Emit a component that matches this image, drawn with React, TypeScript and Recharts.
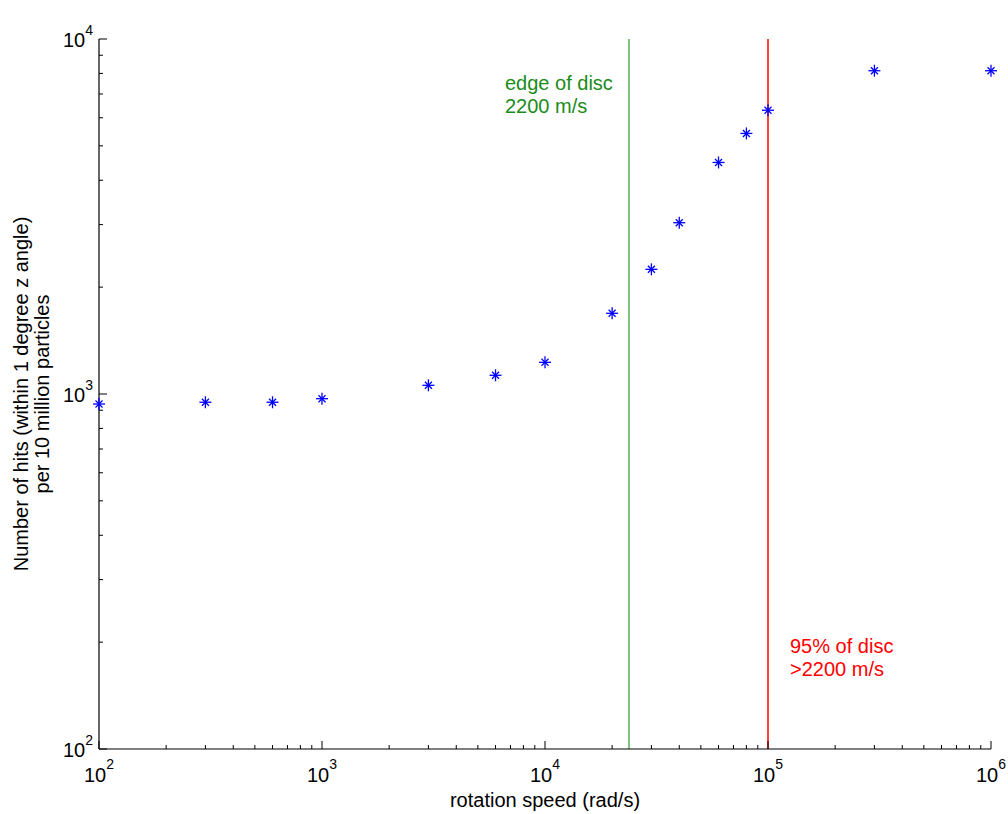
import React from "react";
import {
  ScatterChart,
  Scatter,
  XAxis,
  YAxis,
  ReferenceLine,
} from "recharts";

// ---- data ----
const speeds = [100, 300, 600, 1000, 3000, 6000, 10000, 20000, 30000, 40000, 60000, 80000, 100000, 300000, 1000000];
const hits = [937, 948, 948, 970, 1058, 1129, 1228, 1688, 2245, 3037, 4490, 5420, 6300, 8140, 8140];

const xTicks = [
  100, 200, 300, 400, 500, 600, 700, 800, 900,
  1000, 2000, 3000, 4000, 5000, 6000, 7000, 8000, 9000,
  10000, 20000, 30000, 40000, 50000, 60000, 70000, 80000, 90000,
  100000, 200000, 300000, 400000, 500000, 600000, 700000, 800000, 900000,
  1000000,
];
const yTicks = [
  100, 200, 300, 400, 500, 600, 700, 800, 900,
  1000, 2000, 3000, 4000, 5000, 6000, 7000, 8000, 9000,
  10000,
];

const edgeOfDisc = 23800;
const disc95 = 100000;

const titleText = "total hits Z-angle within 1 degree";
const xLabelText = "rotation speed (rad/s)";
const yLabelLines = ["Number of hits (within 1 degree z angle)", "per 10 million particles"];
const greenLines = ["edge of disc", "2200 m/s"];
const redLines = ["95% of disc", ">2200 m/s"];

const data = speeds.map((s, i) => ({ x: s, y: hits[i] }));

const FONT = "'Liberation Sans', Arial, Helvetica, sans-serif";
const MAJOR = 8;
const MINOR = 4;

const isMajor = (v: number) => Math.abs(Math.log10(v) - Math.round(Math.log10(v))) < 1e-9;
const expOf = (v: number) => Math.round(Math.log10(v));

const BottomTick = (props: any) => {
  const { x, y, payload } = props;
  const v = payload.value;
  const major = isMajor(v);
  return (
    <g>
      <line x1={x} x2={x} y1={y} y2={y - (major ? MAJOR : MINOR)} stroke="#000" strokeWidth={1} />
      {major && (
        <text x={x} y={y + 33} textAnchor="middle" fontFamily={FONT} fontSize={20} fill="#000">
          10
          <tspan dy={-13} fontSize={14}>{expOf(v)}</tspan>
        </text>
      )}
    </g>
  );
};

const TopTick = (props: any) => {
  const { x, y, payload } = props;
  const major = isMajor(payload.value);
  return <line x1={x} x2={x} y1={y} y2={y + (major ? MAJOR : MINOR)} stroke="#000" strokeWidth={1} />;
};

const LeftTick = (props: any) => {
  const { x, y, payload } = props;
  const v = payload.value;
  const major = isMajor(v);
  return (
    <g>
      <line x1={x} x2={x + (major ? MAJOR : MINOR)} y1={y} y2={y} stroke="#000" strokeWidth={1} />
      {major && (
        <text x={x - 6} y={y + 8} textAnchor="end" fontFamily={FONT} fontSize={20} fill="#000">
          10
          <tspan dy={-12} fontSize={14}>{expOf(v)}</tspan>
        </text>
      )}
    </g>
  );
};

const RightTick = (props: any) => {
  const { x, y, payload } = props;
  const major = isMajor(payload.value);
  return <line x1={x} x2={x - (major ? MAJOR : MINOR)} y1={y} y2={y} stroke="#000" strokeWidth={1} />;
};

const Star = (props: any) => {
  const { cx, cy } = props;
  if (cx == null || cy == null) return null;
  const r = 6;
  const d = 3.5;
  return (
    <g stroke="#0000ff" strokeWidth={1.3}>
      <line x1={cx - r} x2={cx + r} y1={cy} y2={cy} />
      <line x1={cx} x2={cx} y1={cy - r} y2={cy + r} />
      <line x1={cx - d} x2={cx + d} y1={cy - d} y2={cy + d} />
      <line x1={cx - d} x2={cx + d} y1={cy + d} y2={cy - d} />
    </g>
  );
};

const TitleLabel = (props: any) => {
  const vb = props.viewBox || {};
  return (
    <text x={vb.x + vb.width / 2} y={26} textAnchor="middle" fontFamily={FONT} fontSize={20} fill="#000">
      {titleText}
    </text>
  );
};

const XLabel = (props: any) => {
  const vb = props.viewBox || {};
  return (
    <text x={vb.x + vb.width / 2} y={807} textAnchor="middle" fontFamily={FONT} fontSize={20} fill="#000">
      {xLabelText}
    </text>
  );
};

const YLabel = (props: any) => {
  const vb = props.viewBox || {};
  const cy = vb.y + vb.height / 2;
  return (
    <g>
      {yLabelLines.map((t, i) => {
        const lx = 28 + i * 21;
        return (
          <text
            key={i}
            x={lx}
            y={cy}
            transform={`rotate(-90 ${lx} ${cy})`}
            textAnchor="middle"
            fontFamily={FONT}
            fontSize={20}
            fill="#000"
          >
            {t}
          </text>
        );
      })}
    </g>
  );
};

const GreenLabel = (props: any) => {
  const vb = props.viewBox || {};
  return (
    <text x={vb.x - 124} y={vb.y + 51} fontFamily={FONT} fontSize={20} fill="#1a8c1a">
      <tspan x={vb.x - 124}>{greenLines[0]}</tspan>
      <tspan x={vb.x - 124} dy={23}>{greenLines[1]}</tspan>
    </text>
  );
};

const RedLabel = (props: any) => {
  const vb = props.viewBox || {};
  return (
    <text x={vb.x + 22} y={vb.y + 614} fontFamily={FONT} fontSize={20} fill="#ff0000">
      <tspan x={vb.x + 22}>{redLines[0]}</tspan>
      <tspan x={vb.x + 22} dy={23}>{redLines[1]}</tspan>
    </text>
  );
};

export default function App() {
  return (
    <div style={{ position: "absolute", left: 0, top: 0, width: 1008, height: 814, background: "#fff" }}>
      <ScatterChart width={1008} height={814} margin={{ top: 39, right: 17, bottom: 0, left: 0 }}>
        <XAxis
          dataKey="x"
          type="number"
          scale="log"
          domain={[100, 1000000]}
          ticks={xTicks}
          interval={0}
          tickSize={0}
          tickMargin={0}
          tick={<BottomTick />}
          height={65}
          axisLine={{ stroke: "#000", strokeWidth: 1.2 }}
          tickLine={false}
          label={<XLabel />}
        />
        <XAxis
          xAxisId="top"
          orientation="top"
          dataKey="x"
          type="number"
          scale="log"
          domain={[100, 1000000]}
          ticks={xTicks}
          interval={0}
          tickSize={0}
          tickMargin={0}
          tick={<TopTick />}
          height={0}
          axisLine={{ stroke: "#000", strokeWidth: 1.2 }}
          tickLine={false}
          label={<TitleLabel />}
        />
        <YAxis
          dataKey="y"
          type="number"
          scale="log"
          domain={[100, 10000]}
          ticks={yTicks}
          interval={0}
          tickSize={0}
          tickMargin={0}
          tick={<LeftTick />}
          width={99}
          axisLine={{ stroke: "#000", strokeWidth: 1.2 }}
          tickLine={false}
          label={<YLabel />}
        />
        <YAxis
          yAxisId="right"
          orientation="right"
          dataKey="y"
          type="number"
          scale="log"
          domain={[100, 10000]}
          ticks={yTicks}
          interval={0}
          tickSize={0}
          tickMargin={0}
          tick={<RightTick />}
          width={0}
          axisLine={{ stroke: "#000", strokeWidth: 1.2 }}
          tickLine={false}
        />
        <ReferenceLine x={edgeOfDisc} stroke="#80c080" strokeWidth={2} label={<GreenLabel />} />
        <ReferenceLine x={disc95} stroke="#ff0000" strokeWidth={1.5} label={<RedLabel />} />
        <Scatter data={data} shape={<Star />} isAnimationActive={false} />
      </ScatterChart>
    </div>
  );
}
